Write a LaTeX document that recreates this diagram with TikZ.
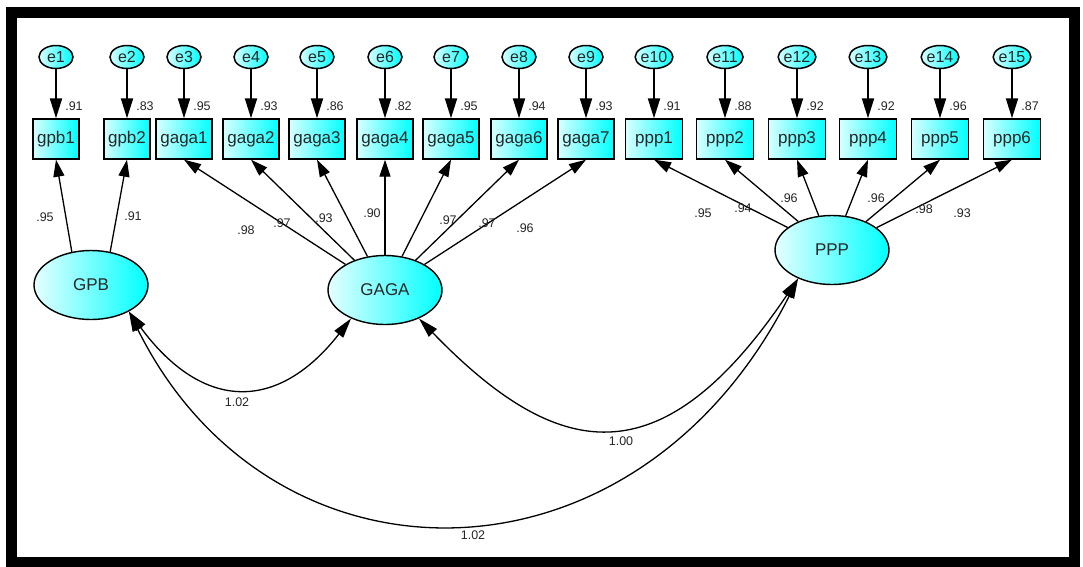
\documentclass[tikz,border=0pt]{standalone}
\usepackage{fontspec}
\setmainfont{Liberation Sans}
\usetikzlibrary{arrows.meta,shapes.geometric}

\begin{document}
\begin{tikzpicture}[
  x=1pt, y=-1pt,
  every node/.style = {text=black!85, align=center}
  ]
  \tikzset{ObsBox/.style = {draw, line width=1.4pt, left color=cyan!15, right color=cyan,
    minimum height=40pt, inner sep=0pt, font=\fontsize{17}{19}\selectfont}}
  \tikzset{ErrNode/.style = {ellipse, draw, line width=1.5pt, left color=cyan!15, right color=cyan,
    minimum width=34pt, minimum height=23pt, inner sep=0pt, font=\fontsize{16}{18}\selectfont}}
  \tikzset{Latent/.style = {ellipse, draw, line width=1.4pt, left color=cyan!10, right color=cyan,
    minimum width=114pt, minimum height=69pt, font=\fontsize{17}{19}\selectfont}}
  \tikzset{Est/.style = {inner sep=0pt, font=\fontsize{12.5}{14}\selectfont}}
  \tikzset{ErrArrow/.style = {line width=2pt, -{Triangle[length=20pt,width=12pt]}}}
  \tikzset{Load/.style = {line width=1.3pt, -{Triangle[length=17pt,width=11pt]}}}
  \tikzset{Cov/.style = {line width=1.3pt,
    {Triangle[length=20pt,width=11pt]}-{Triangle[length=20pt,width=11pt]}}}

  \useasboundingbox (0,0) rectangle (1083,566);
  \fill[white] (0,0) rectangle (1083,566);
  \draw[line width=11pt] (11,12) rectangle (1074,562);

  % observed variables with their errors
  \foreach \i/\obs/\x/\w/\r in {1/gpb1/56/46/.91, 2/gpb2/127/46/.83, 3/gaga1/184/56/.95,
    4/gaga2/251/56/.93, 5/gaga3/317/56/.86, 6/gaga4/385/56/.82, 7/gaga5/451/56/.95,
    8/gaga6/519/56/.94, 9/gaga7/586/56/.93, 10/ppp1/654/57/.91, 11/ppp2/725/57/.88,
    12/ppp3/797/57/.92, 13/ppp4/868/57/.92, 14/ppp5/940/57/.96, 15/ppp6/1012/57/.87}
  {
    \node[ObsBox, minimum width=\w pt] (\obs) at (\x,139) {\obs};
    \node[ErrNode] (e\i) at (\x,57) {e\i};
    \draw[ErrArrow] (e\i) -- (\obs);
    \node[Est] (r\i) at ([xshift=18pt,yshift=12pt]\obs.north) {\r};
  }

  % latent variables
  \node[Latent] (GPB) at (91,285) {GPB};
  \node[Latent] (GAGA) at (385,290) {GAGA};
  \node[Latent] (PPP) at (832,250) {PPP};

  \draw[Load] (GPB.120) -- (gpb1.south);
  \draw[Load] (GPB.60) -- (gpb2.south);
  \foreach \obs in {gaga1,gaga2,gaga3,gaga4,gaga5,gaga6,gaga7}
    \draw[Load] (GAGA) -- (\obs.south);
  \foreach \obs in {ppp1,ppp2,ppp3,ppp4,ppp5,ppp6}
    \draw[Load] (PPP) -- (\obs.south);

  \foreach \v/\x/\y [count=\k] in {.95/45/217, .91/133/216,
    .98/246/230, .97/282/223, .93/324/218, .90/372/213, .97/448/220, .97/487/223, .96/525/228,
    .95/703/213, .94/743/208, .96/789/198, .96/876/198, .98/924/209, .93/962/213}
    \node[Est] (load\k) at (\x,\y) {\v};

  % covariances
  \draw[Cov] (GPB.-35) .. controls (203,412) and (278,412) .. (GAGA.-140);
  \draw[Cov] (GAGA.-40) .. controls (556,460) and (660,483) .. (PPP.-140);
  \draw[Cov] (GPB.-35) .. controls (272,600) and (636,599) .. (PPP.-140);

  \node[Est] (cov1) at (237,402) {1.02};
  \node[Est] (cov2) at (621,441) {1.00};
  \node[Est] (cov3) at (473,535) {1.02};

\end{tikzpicture}
\end{document}
